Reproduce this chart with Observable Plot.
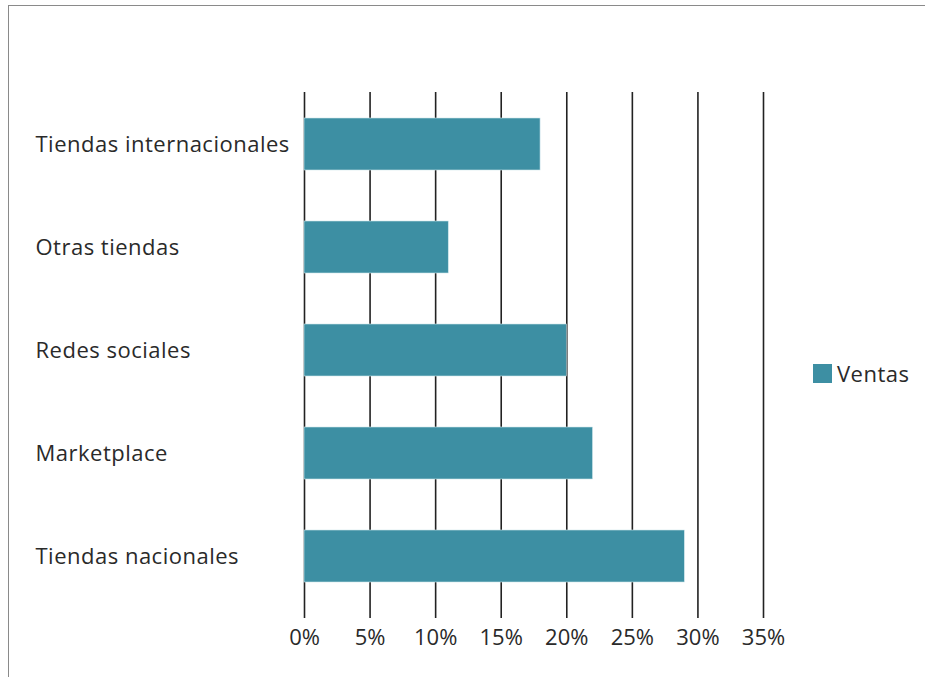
<!DOCTYPE html>
<html>
<head>
<meta charset="utf-8">
<script src="https://cdn.jsdelivr.net/npm/d3@7"></script>
<script src="https://cdn.jsdelivr.net/npm/@observablehq/plot@0.6"></script>
<style>
  html, body { margin: 0; padding: 0; overflow: hidden; background: #fff; }
  #wrap { position: relative; width: 925px; height: 677px; font-family: "Open Sans", sans-serif; }
  #frame { position: absolute; left: 8px; top: 5px; width: 1000px; height: 1000px; border: 1px solid #8a8a8a; box-sizing: border-box; }
  #chart { position: absolute; left: 0; top: 0; }
  #legend { position: absolute; left: 813px; top: 358px; display: flex; align-items: center; font-size: 22px; letter-spacing: 0.5px; color: #2a2a2a; }
  #legend .sw { width: 19px; height: 19px; background: #3d8fa3; margin-right: 5px; }
</style>
</head>
<body>
<div id="wrap">
  <div id="frame"></div>
  <div id="chart"></div>
  <div id="legend"><div class="sw"></div><span>Ventas</span></div>
</div>
<script>
const categories = ["Tiendas internacionales", "Otras tiendas", "Redes sociales", "Marketplace", "Tiendas nacionales"];
const ventas = [0.18, 0.11, 0.20, 0.22, 0.29];
const xTicks = [0, 0.05, 0.10, 0.15, 0.20, 0.25, 0.30, 0.35];

const data = categories.map((c, i) => ({categoria: c, valor: ventas[i]}));

const chart = Plot.plot({
  width: 925,
  height: 677,
  marginLeft: 304,
  marginRight: 162,
  marginTop: 92,
  marginBottom: 69,
  style: {fontFamily: "'Open Sans', sans-serif", background: "transparent"},
  x: {domain: [0, 0.35]},
  y: {domain: categories, paddingInner: 0.5, paddingOuter: 0.25, axis: null},
  marks: [
    Plot.ruleX(xTicks, {stroke: "#222", strokeWidth: 1.6}),
    Plot.barX(data, {x: "valor", y: "categoria", fill: "#3d8fa3", stroke: "#cfe6ec", strokeWidth: 0.6}),
    Plot.axisX({ticks: xTicks, tickFormat: d3.format(".0%"), tickSize: 10, tickPadding: 11, fontSize: 22, stroke: "#222", strokeWidth: 1.6, color: "#2a2a2a", label: null}),
    Plot.ruleY([0], {frameAnchor: "bottom", stroke: "#222", strokeWidth: 1.6}),
    Plot.text(categories, {y: d => d, frameAnchor: "left", textAnchor: "start", dx: -269, fontSize: 22, fill: "#2a2a2a", style: "letter-spacing:0.5px"})
  ]
});
chart.querySelectorAll("text").forEach(t => { if (!t.closest("[aria-label='x-axis tick label']")) t.style.letterSpacing = "0.5px"; });
document.getElementById("chart").appendChild(chart);
</script>
</body>
</html>
